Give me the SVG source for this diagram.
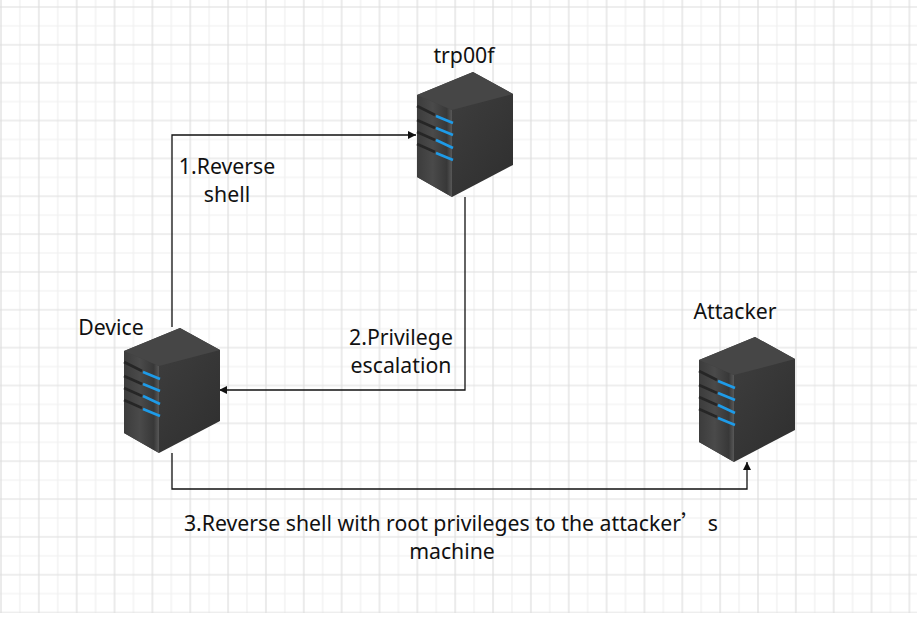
<svg xmlns="http://www.w3.org/2000/svg" width="917" height="622" viewBox="0 0 917 622">
<style>
text{font-family:"Noto Sans","Noto Sans CJK SC",sans-serif;font-size:21.25px;fill:#111;text-anchor:middle}
.c{fill:none;stroke:#111;stroke-width:1.3}
.slot{stroke:#262626;stroke-width:2.6}
.led{stroke:#1e9be8;stroke-width:2.6}
</style>
<defs>
<pattern id="g" width="37.85" height="37.85" patternUnits="userSpaceOnUse" x="0" y="6">
<path d="M19.9 0V37.85M0 19.9H37.85" stroke="#f0f0f0" stroke-width="1.2" fill="none"/>
<path d="M1 0V37.85M0 1H37.85" stroke="#dedede" stroke-width="1.2" fill="none"/>
</pattern>
<marker id="a" markerWidth="9" markerHeight="9" refX="8" refY="4" orient="auto" markerUnits="userSpaceOnUse"><path d="M0 0L8 4L0 8z" fill="#111"/></marker>
<linearGradient id="f" x1="0" y1="0" x2="1" y2="0"><stop offset="0" stop-color="#3c3c3c"/><stop offset=".45" stop-color="#4a4a4a"/><stop offset=".85" stop-color="#383838"/><stop offset="1" stop-color="#585858"/></linearGradient>
<linearGradient id="s" x1="0" y1="0" x2="1" y2="1"><stop offset="0" stop-color="#434343"/><stop offset="1" stop-color="#2e2e2e"/></linearGradient>
<g id="srv">
<path d="M0 23L56 0L96 22V93L35 125L0 105z" fill="url(#s)"/>
<path d="M0 23L35 38V125L0 105z" fill="url(#f)"/>
<path d="M0 23L56 0L96 22L35 38z" fill="#464646"/>
<path class="slot" d="M0 34L18 43M0 48L18 56M0 60L18 68M0 72L18 80"/>
<path class="led" d="M19 44L36 51M19 56L36 63M19 68L36 76M19 81L36 88"/>
</g>
</defs>
<rect width="917" height="622" fill="#fff"/>
<rect x="0" y="0" width="917" height="613" fill="url(#g)"/>
<g id="connectors">
<path class="c" d="M172 327V135H416" marker-end="url(#a)"/>
<path class="c" d="M465 197V390H219" marker-end="url(#a)"/>
<path class="c" d="M172 453V489H747V462" marker-end="url(#a)"/>
</g>
<g id="trp00f"><use href="#srv" x="417" y="72"/><text x="464" y="63">trp00f</text></g>
<g id="device"><use href="#srv" x="124" y="328"/><text x="111" y="335">Device</text></g>
<g id="attacker"><use href="#srv" x="699" y="337"/><text x="735" y="319">Attacker</text></g>
<g id="labels">
<text x="227" y="174">1.Reverse</text><text x="227" y="202">shell</text>
<text x="401" y="345">2.Privilege</text><text x="401" y="373">escalation</text>
<text x="451" y="531">3.Reverse shell with root privileges to the attacker<tspan font-family="Noto Sans CJK SC">’</tspan> s</text><text x="452" y="559">machine</text>
</g>
</svg>
